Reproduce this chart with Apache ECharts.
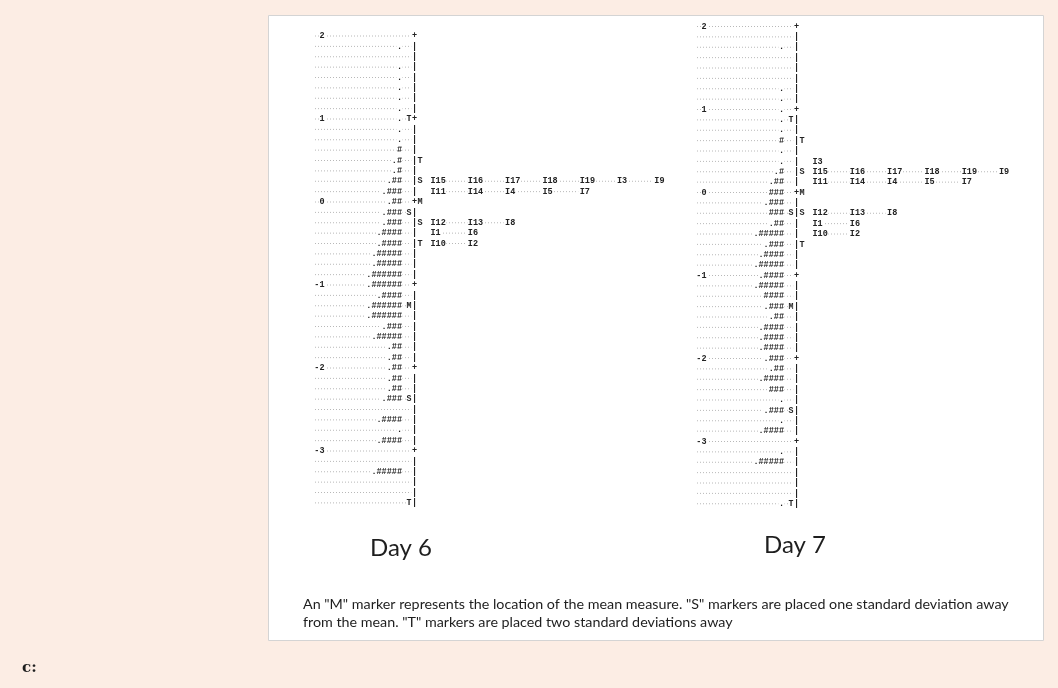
<!DOCTYPE html>
<html><head><meta charset="utf-8">
<script src="https://cdn.jsdelivr.net/npm/echarts@6/dist/echarts.min.js"></script>
<style>html,body{margin:0;padding:0;background:#fcede4;}#c{width:1058px;height:688px;}</style>
</head><body><div id="c"></div><script>
// ---- data ----
// rows: [logit, persons, person marker, item marker]
const day6Rows = [
  [2, "", "", ""], [1.875, ".", "", ""], [1.75, "", "", ""], [1.625, ".", "", ""],
  [1.5, ".", "", ""], [1.375, ".", "", ""], [1.25, ".", "", ""], [1.125, ".", "", ""],
  [1, ".", "T", ""], [0.875, ".", "", ""], [0.75, ".", "", ""], [0.625, "#", "", ""],
  [0.5, ".#", "", "T"], [0.375, ".#", "", ""], [0.25, ".##", "", "S"], [0.125, ".###", "", ""],
  [0, ".##", "", "M"], [-0.125, ".###", "S", ""], [-0.25, ".###", "", "S"], [-0.375, ".####", "", ""],
  [-0.5, ".####", "", "T"], [-0.625, ".#####", "", ""], [-0.75, ".#####", "", ""], [-0.875, ".######", "", ""],
  [-1, ".######", "", ""], [-1.125, ".####", "", ""], [-1.25, ".######", "M", ""], [-1.375, ".######", "", ""],
  [-1.5, ".###", "", ""], [-1.625, ".#####", "", ""], [-1.75, ".##", "", ""], [-1.875, ".##", "", ""],
  [-2, ".##", "", ""], [-2.125, ".##", "", ""], [-2.25, ".##", "", ""], [-2.375, ".###", "S", ""],
  [-2.5, "", "", ""], [-2.625, ".####", "", ""], [-2.75, ".", "", ""], [-2.875, ".####", "", ""],
  [-3, "", "", ""], [-3.125, "", "", ""], [-3.25, ".#####", "", ""], [-3.375, "", "", ""],
  [-3.5, "", "", ""], [-3.625, "", "T", ""]
];
const day7Rows = [
  [2, "", "", ""], [1.875, "", "", ""], [1.75, ".", "", ""], [1.625, "", "", ""],
  [1.5, "", "", ""], [1.375, "", "", ""], [1.25, ".", "", ""], [1.125, ".", "", ""],
  [1, ".", "", ""], [0.875, ".", "T", ""], [0.75, ".", "", ""], [0.625, "#", "", "T"],
  [0.5, ".", "", ""], [0.375, ".", "", ""], [0.25, ".#", "", "S"], [0.125, ".##", "", ""],
  [0, "###", "", "M"], [-0.125, ".###", "", ""], [-0.25, "###", "S", "S"], [-0.375, ".##", "", ""],
  [-0.5, ".#####", "", ""], [-0.625, ".###", "", "T"], [-0.75, ".####", "", ""], [-0.875, ".#####", "", ""],
  [-1, ".####", "", ""], [-1.125, ".#####", "", ""], [-1.25, "####", "", ""], [-1.375, ".###", "M", ""],
  [-1.5, ".##", "", ""], [-1.625, ".####", "", ""], [-1.75, ".####", "", ""], [-1.875, ".####", "", ""],
  [-2, ".###", "", ""], [-2.125, ".##", "", ""], [-2.25, ".####", "", ""], [-2.375, "###", "", ""],
  [-2.5, ".", "", ""], [-2.625, ".###", "S", ""], [-2.75, ".", "", ""], [-2.875, ".####", "", ""],
  [-3, "", "", ""], [-3.125, ".", "", ""], [-3.25, ".#####", "", ""], [-3.375, "", "", ""],
  [-3.5, "", "", ""], [-3.625, "", "", ""], [-3.75, ".", "T", ""]
];
// item rows: [logit, item labels]
const day6Items = [
  [0.25, ["I15", "I16", "I17", "I18", "I19", "I3", "I9"]],
  [0.125, ["I11", "I14", "I4", "I5", "I7"]],
  [-0.25, ["I12", "I13", "I8"]],
  [-0.375, ["I1", "I6"]],
  [-0.5, ["I10", "I2"]]
];
const day7Items = [
  [0.375, ["I3"]],
  [0.25, ["I15", "I16", "I17", "I18", "I19", "I9"]],
  [0.125, ["I11", "I14", "I4", "I5", "I7"]],
  [-0.25, ["I12", "I13", "I8"]],
  [-0.375, ["I1", "I6"]],
  [-0.5, ["I10", "I2"]]
];
const tickValues = [2, 1, 0, -1, -2, -3];
const tickLabels = ["2", "1", "0", "-1", "-2", "-3"];
const panelTitles = ["Day 6", "Day 7"];
const captionLines = [
  'An "M" marker represents the location of the mean measure. "S" markers are placed one standard deviation away',
  'from the mean. "T" markers are placed two standard deviations away'
];
const sideLabel = "c:";

// ---- rendering ----
const MONO = 'bold 8.5px "Liberation Mono", "DejaVu Sans Mono", monospace';
const INK = '#222222';
const DOT = '#b8b8b8';
function txt(x, y, s, align, bg) {
  return { type: 'text', z2: 10, style: { x: x, y: y, text: s, font: MONO, fill: INK, align: align,
    verticalAlign: 'middle', backgroundColor: bg === false ? null : '#fff', padding: [0, 0.5] } };
}
function leader(x1, x2, y) {
  return { type: 'line', z2: 1, shape: { x1: x1, y1: y, x2: x2, y2: y },
    style: { stroke: DOT, lineWidth: 1, lineDash: [1, 2] } };
}
function rowRenderer(rows) {
  return function (params, api) {
    const r = rows[params.dataIndex];
    const lv = r[0];
    const p = api.coord([0, lv]);
    const bx = p[0], y = p[1];
    const kids = [leader(api.coord([-99.5, lv])[0], bx - 3, y)];
    const ti = tickValues.indexOf(lv);
    const isTick = ti >= 0;
    if (isTick) kids.push(txt(api.coord([-89.5, lv])[0], y, tickLabels[ti], 'right'));
    if (r[1]) kids.push(txt(api.coord([-12, lv])[0], y, r[1], 'right'));
    if (r[2]) kids.push(txt(api.coord([-5.5, lv])[0], y, r[2], 'center'));
    kids.push(txt(bx, y, isTick ? '+' : '|', 'center'));
    if (r[3]) kids.push(txt(api.coord([5.5, lv])[0], y, r[3], 'center', false));
    return { type: 'group', children: kids };
  };
}
function itemRenderer(items) {
  return function (params, api) {
    const it = items[params.dataIndex];
    const lv = it[0], labels = it[1];
    const kids = [];
    const xs = labels.map((_, k) => api.coord([15.5 + k * 37.3, lv]));
    if (labels.length > 1) kids.push(leader(xs[0][0] + 10, xs[labels.length - 1][0] - 1, xs[0][1]));
    labels.forEach((s, k) => kids.push(txt(xs[k][0], xs[k][1], s, 'left')));
    return { type: 'group', children: kids };
  };
}

const panels = [
  { rows: day6Rows, items: day6Items, bar: 414.5, top: 36 },
  { rows: day7Rows, items: day7Items, bar: 796.5, top: 26.5 }
];
const PX_PER_LOGIT = 83;
const grids = [], xAxes = [], yAxes = [], series = [];
panels.forEach((pn, i) => {
  grids.push({ left: pn.bar - 100, width: 340, top: pn.top, height: 6 * PX_PER_LOGIT, show: false });
  xAxes.push({ gridIndex: i, type: 'value', min: -100, max: 240, show: false });
  yAxes.push({ gridIndex: i, type: 'value', min: -4, max: 2, interval: 1, show: false });
  series.push({ type: 'custom', xAxisIndex: i, yAxisIndex: i, clip: false, z: 5,
    renderItem: rowRenderer(pn.rows), data: pn.rows.map(r => [0, r[0]]), encode: { x: 0, y: 1 } });
  series.push({ type: 'custom', xAxisIndex: i, yAxisIndex: i, clip: false, z: 6,
    renderItem: itemRenderer(pn.items), data: pn.items.map(r => [20, r[0]]), encode: { x: 0, y: 1 } });
});

const SANS = 'Lato, "Open Sans", sans-serif';
const chart = echarts.init(document.getElementById('c'), null, { renderer: 'canvas' });
chart.setOption({
  backgroundColor: '#fcede4',
  animation: false,
  grid: grids, xAxis: xAxes, yAxis: yAxes, series: series,
  graphic: [
    { type: 'rect', z: -5, shape: { x: 268.5, y: 15.5, width: 775, height: 625 },
      style: { fill: '#ffffff', stroke: '#d4d4d4', lineWidth: 1 } },
    { type: 'text', z: 1, style: { x: 401, y: 548, text: panelTitles[0], font: '24px ' + SANS,
      fill: '#1e1e1e', align: 'center', verticalAlign: 'middle' } },
    { type: 'text', z: 1, style: { x: 795, y: 545, text: panelTitles[1], font: '24px ' + SANS,
      fill: '#1e1e1e', align: 'center', verticalAlign: 'middle' } },
    { type: 'text', z: 1, style: { x: 303, y: 604, text: captionLines[0], font: '14.3px ' + SANS,
      fill: '#1e1e1e', align: 'left', verticalAlign: 'middle' } },
    { type: 'text', z: 1, style: { x: 303, y: 622, text: captionLines[1], font: '14.3px ' + SANS,
      fill: '#1e1e1e', align: 'left', verticalAlign: 'middle' } },
    { type: 'text', z: 1, style: { x: 22, y: 668, text: sideLabel, font: 'bold 15px "DejaVu Serif", serif',
      fill: '#1e1e1e', align: 'left', verticalAlign: 'middle' } }
  ]
});
</script></body></html>
